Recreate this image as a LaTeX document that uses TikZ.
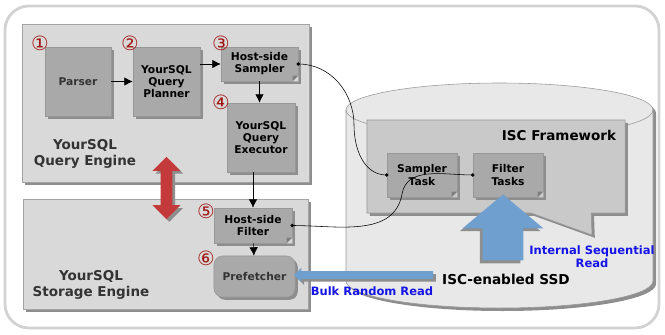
\documentclass[tikz,border=0pt]{standalone}
\usepackage{fontspec}
\setmainfont{DejaVu Sans}
\usetikzlibrary{arrows.meta,shapes.arrows,shapes.callouts,shadows}

\definecolor{outerline}{HTML}{D2D2D2}
\definecolor{enginefill}{HTML}{D9D9D9}
\definecolor{engineline}{HTML}{A4A4A4}
\definecolor{boxfill}{HTML}{A9A9A9}
\definecolor{boxline}{HTML}{989898}
\definecolor{shadowgray}{HTML}{8E8E8E}
\definecolor{cylfill}{HTML}{E8E8E8}
\definecolor{iscfill}{HTML}{C9C9C9}
\definecolor{flowblue}{HTML}{6E9FCF}
\definecolor{textblue}{HTML}{1414E6}
\definecolor{numred}{HTML}{A31515}
\definecolor{redarrow}{HTML}{C43A3A}

\begin{document}
\begin{tikzpicture}[x=0.025cm, y=0.025cm, >={Latex[length=6pt,width=6pt]},
    shade/.style={drop shadow={shadow xshift=2pt, shadow yshift=-2pt, fill=shadowgray, opacity=1}},
    engine/.style={draw=engineline, fill=enginefill, inner sep=0pt, shade},
    box/.style={draw=boxline, fill=boxfill, inner sep=1pt, align=center, shade,
        font=\fontsize{7.6}{8.6}\selectfont\bfseries},
    note/.style={box},
    num/.style={text=numred, font=\fontsize{14}{14}\selectfont, inner sep=0pt},
    enginelabel/.style={text=black!80, align=center, font=\fontsize{9.6}{10.8}\selectfont\bfseries},
    bluelabel/.style={text=textblue, align=center, font=\fontsize{8.2}{9}\selectfont\bfseries},
    dot/.style={fill=black}]

    % 0. bounding box and outer frame
    \useasboundingbox (0,0) rectangle (665,-335);
    \draw[outerline, line width=2pt, rounded corners=0.6cm] (5,-6) rectangle (659,-328);

    % 1. ISC-enabled SSD (cylinder)
    \fill[shadowgray] (349,-113) -- (349,-284) arc[start angle=180, end angle=360, x radius=153.5, y radius=27]
        -- (656,-113) arc[start angle=0, end angle=180, x radius=153.5, y radius=27] -- cycle;
    \draw[boxline, fill=cylfill] (346,-110) -- (346,-281) arc[start angle=180, end angle=360, x radius=153.5, y radius=27]
        -- (653,-110) arc[start angle=0, end angle=180, x radius=153.5, y radius=27] -- cycle;
    \draw[boxline] (346,-110) arc[start angle=180, end angle=360, x radius=153.5, y radius=27];

    % 2. ISC framework callout with its tasks
    \node[rectangle callout, draw=boxline, fill=iscfill, shade, inner sep=0pt,
          minimum width=6.45cm, minimum height=2.325cm,
          callout absolute pointer={(592,-235)}, callout pointer width=1.5cm]
          (isc) at (496,-166.5) {};
    \node[anchor=east, font=\fontsize{9.6}{10}\selectfont\bfseries] (isclabel) at (621,-135) {ISC Framework};
    \node[note, minimum width=1.75cm, minimum height=1.1cm] (stask) at (422,-175) {Sampler\\Task};
    \node[note, minimum width=1.75cm, minimum height=1.1cm] (ftask) at (508,-175) {Filter\\Tasks};

    % 3. query engine and storage engine
    \node[engine, minimum width=7.175cm, minimum height=3.95cm] (qengine) at (166,-103) {};
    \node[engine, minimum width=7.125cm, minimum height=2.75cm] (sengine) at (165.5,-254) {};
    \node[enginelabel] (qlabel) at (85,-154) {YourSQL\\Query Engine};
    \node[enginelabel] (slabel) at (91,-285) {YourSQL\\Storage Engine};

    % 4. host-side modules
    \node[box, text=black!80, minimum width=1.65cm, minimum height=1.725cm] (parser) at (78,-81.5) {Parser};
    \node[box, minimum width=1.675cm, minimum height=1.725cm] (planner) at (166.5,-81.5) {YourSQL\\Query\\Planner};
    \node[note, minimum width=1.925cm, minimum height=0.85cm] (hsampler) at (259.5,-64) {Host-side\\Sampler};
    \node[box, minimum width=1.7cm, minimum height=1.725cm] (executor) at (261,-137.5) {YourSQL\\Query\\Executor};
    \node[note, minimum width=1.95cm, minimum height=0.875cm] (hfilter) at (253,-225.5) {Host-side\\Filter};
    \node[box, rounded corners=6pt, minimum width=2.025cm, minimum height=1.025cm] (prefetch) at (254.5,-276.5) {\textcolor{black!80}{Prefetcher}};

    % folded corners of the note boxes
    \foreach \n/\bg in {hsampler/enginefill, hfilter/enginefill, stask/iscfill, ftask/iscfill} {
        \fill[\bg] ([xshift=-4pt]\n.south east) -- (\n.south east) -- ([yshift=4pt]\n.south east) -- cycle;
        \fill[boxfill!75!black] ([xshift=-4pt]\n.south east) -- ([yshift=4pt]\n.south east)
            -- ([xshift=-4pt,yshift=4pt]\n.south east) -- cycle;
    }

    % 5. step numbers
    \node[num] (n1) at (40,-43) {①};
    \node[num] (n2) at (130,-43) {②};
    \node[num] (n3) at (221,-43) {③};
    \node[num] (n4) at (221,-102) {④};
    \node[num] (n5) at (206,-211) {⑤};
    \node[num] (n6) at (206,-258) {⑥};

    % 6. flow inside the host
    \draw[->] (parser) -- (planner);
    \draw[->] (planner.east |- hsampler) -- (hsampler.west);
    \draw[->] (hsampler.south) -- (hsampler.south |- executor.north);
    \draw[->] (executor.south -| hfilter) -- (hfilter.north);
    \draw[->] (hfilter) -- (prefetch);

    % 7. offloading links to the device
    \draw (hsampler.east) to[out=0, in=90] (354,-125) to[out=-90, in=180] (stask.west);
    \draw (hfilter.east) to[out=0, in=-100] (402,-194) to[out=80, in=180] (ftask.west);
    \fill[dot] (hsampler.east) circle (1.8);
    \fill[dot] (stask.west) circle (1.8);
    \fill[dot] (hfilter.east) circle (1.8);
    \fill[dot] (ftask.west) circle (1.8);

    % 8. big arrows
    \node[double arrow, shape border rotate=90, fill=redarrow, shade, inner sep=0.1375cm,
          minimum height=1.55cm, double arrow head extend=0.2cm]
          (swap) at (166.5,-188) {};
    \node[single arrow, rotate=90, fill=flowblue, inner sep=0pt,
          drop shadow={shadow xshift=-2pt, shadow yshift=-2pt, fill=shadowgray, opacity=1},
          text width=0pt, text height=1cm, text depth=0pt,
          minimum height=1.65cm, single arrow head extend=0.5cm, single arrow tip angle=100]
          (seqread) at (503,-236) {};
    \node[single arrow, shape border rotate=180, fill=flowblue, shade, inner sep=0.0875cm,
          minimum height=3.475cm, single arrow head extend=0.0875cm]
          (randread) at (365.5,-275) {};

    % 9. device labels
    \node[font=\fontsize{9.7}{10}\selectfont\bfseries] (ssd) at (506,-279) {ISC-enabled SSD};
    \node[bluelabel] (seqlabel) at (592,-257) {Internal Sequential\\Read};
    \node[bluelabel] (randlabel) at (372,-291) {Bulk Random Read};

\end{tikzpicture}
\end{document}
